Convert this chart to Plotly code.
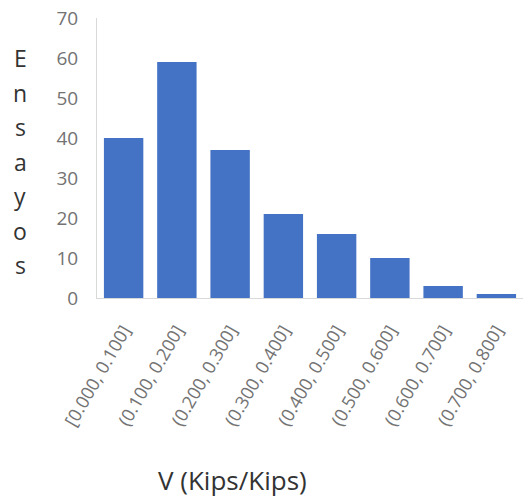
import plotly.graph_objects as go

categories = ["[0.000, 0.100]", "(0.100, 0.200]", "(0.200, 0.300]", "(0.300, 0.400]",
              "(0.400, 0.500]", "(0.500, 0.600]", "(0.600, 0.700]", "(0.700, 0.800]"]
counts = [40, 59, 37, 21, 16, 10, 3, 1]
y_ticks = [0, 10, 20, 30, 40, 50, 60, 70]
y_title = "Ensayos"
x_title = "V (Kips/Kips)"

FONT = "Open Sans"
fig = go.Figure(go.Bar(x=categories, y=counts, marker_color="#4472C4",
                       marker_line_width=0))

W, H = 523, 504
L, R, T, B = 97, 0, 18, 206
fig.update_layout(
    width=W, height=H,
    margin=dict(l=L, r=R, t=T, b=B, autoexpand=False),
    paper_bgcolor="white", plot_bgcolor="white",
    bargap=0.26, showlegend=False,
    font=dict(family=FONT),
)
fig.update_xaxes(type="category", tickangle=-60, showline=True, linecolor="#d9d9d9",
                 linewidth=1, ticks="", showgrid=False, automargin=False,
                 tickfont=dict(size=18, color="#737373"), ticklabelstandoff=14)
fig.update_yaxes(range=[0, 70], tickvals=y_ticks, showline=True, linecolor="#d9d9d9",
                 linewidth=1, ticks="", showgrid=False, zeroline=False, automargin=False,
                 tickfont=dict(size=19, color="#737373"), ticklabelstandoff=14)

plot_h = H - T - B
# stacked letters of the y title
top_px, step_px = 58, 34.5
for i, ch in enumerate(y_title):
    py = top_px + i * step_px
    fig.add_annotation(text=ch, xref="paper", yref="paper", x=0, xshift=20 - L,
                       y=(H - B - py) / plot_h, xanchor="center", yanchor="middle",
                       showarrow=False, font=dict(size=23, color="#333333", family=FONT))

fig.add_annotation(text=x_title, xref="paper", yref="paper",
                   x=(232 - L) / (W - L - R), y=(H - B - 480) / plot_h,
                   xanchor="center", yanchor="middle", showarrow=False,
                   font=dict(size=26, color="#333333", family=FONT))

fig.write_html("out.html", config={"displayModeBar": False},
               post_script="document.body.style.margin='0';document.body.style.overflow='hidden';")
